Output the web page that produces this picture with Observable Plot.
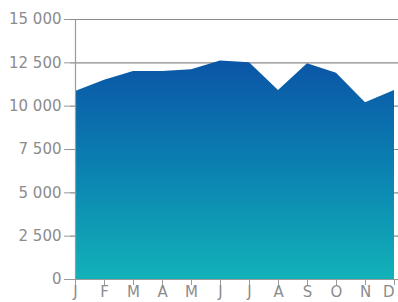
<!DOCTYPE html>
<html>
<head>
<meta charset="utf-8">
<script src="https://cdn.jsdelivr.net/npm/d3@7"></script>
<script src="https://cdn.jsdelivr.net/npm/@observablehq/plot@0.6"></script>
<style>
  html, body { margin: 0; padding: 0; background: #fff; overflow: hidden; }
  #chart svg { display: block; }
</style>
</head>
<body>
<div id="chart"></div>
<script>
const months = ["J","F","M","A","M ","J ","J  ","A ","S","O","N","D"];
const monthLabels = ["J","F","M","A","M","J","J","A","S","O","N","D"];
const values = [10850, 11500, 12000, 12000, 12100, 12600, 12500, 10900, 12450, 11900, 10200, 10900];
const yTicks = [0, 2500, 5000, 7500, 10000, 12500, 15000];

const data = months.map((m, i) => ({month: m, value: values[i]}));
const fmt = d => d3.format(",")(d).replace(/,/g, " ");
const lastMonth = months[months.length - 1];

const plot = Plot.plot({
  width: 398,
  height: 302,
  marginTop: 19,
  marginBottom: 23,
  marginLeft: 70,
  marginRight: 0,
  style: {fontFamily: "DejaVu Sans", fontSize: "15px", color: "#8c8c8c", background: "#fff", overflow: "hidden"},
  x: {type: "point", domain: months, padding: 0, axis: null},
  y: {domain: [0, 15000], axis: null},
  marks: [
    Plot.ruleY(yTicks, {stroke: "#8a8a8a", strokeWidth: 1.2, strokeOpacity: 1}),
    Plot.areaY(data, {x: "month", y: "value", fill: "url(#areaGrad)", curve: "linear"}),
    Plot.axisY(yTicks, {label: null, tickSize: 6, tickPadding: 3, tickFormat: fmt, stroke: "#9a9a9a", fill: "#8c8c8c", letterSpacing: 0.4}),
    Plot.ruleX([months[0]], {y1: 0, y2: 15000, stroke: "#9a9a9a", strokeWidth: 1.2}),
    Plot.ruleY([0], {stroke: "#9a9a9a", strokeWidth: 1.2}),
    Plot.axisX(months, {label: null, tickSize: 6, tickPadding: 1, tickFormat: d => d === lastMonth ? "" : monthLabels[months.indexOf(d)], stroke: "#9a9a9a", fill: "#8c8c8c"}),
    Plot.text([lastMonth], {x: d => d, frameAnchor: "bottom", dy: 7, lineAnchor: "top", textAnchor: "end", text: d => monthLabels[months.indexOf(d)], fill: "#8c8c8c", fontSize: 15})
  ]
});

const svgNS = "http://www.w3.org/2000/svg";
const defs = document.createElementNS(svgNS, "defs");
const grad = document.createElementNS(svgNS, "linearGradient");
grad.setAttribute("id", "areaGrad");
grad.setAttribute("x1", "0"); grad.setAttribute("y1", "0");
grad.setAttribute("x2", "0"); grad.setAttribute("y2", "1");
[["0%", "#0b55a6"], ["45%", "#0a7db0"], ["100%", "#12b2b8"]].forEach(([o, c]) => {
  const s = document.createElementNS(svgNS, "stop");
  s.setAttribute("offset", o); s.setAttribute("stop-color", c);
  grad.appendChild(s);
});
defs.appendChild(grad);
plot.insertBefore(defs, plot.firstChild);

document.getElementById("chart").appendChild(plot);
</script>
</body>
</html>
